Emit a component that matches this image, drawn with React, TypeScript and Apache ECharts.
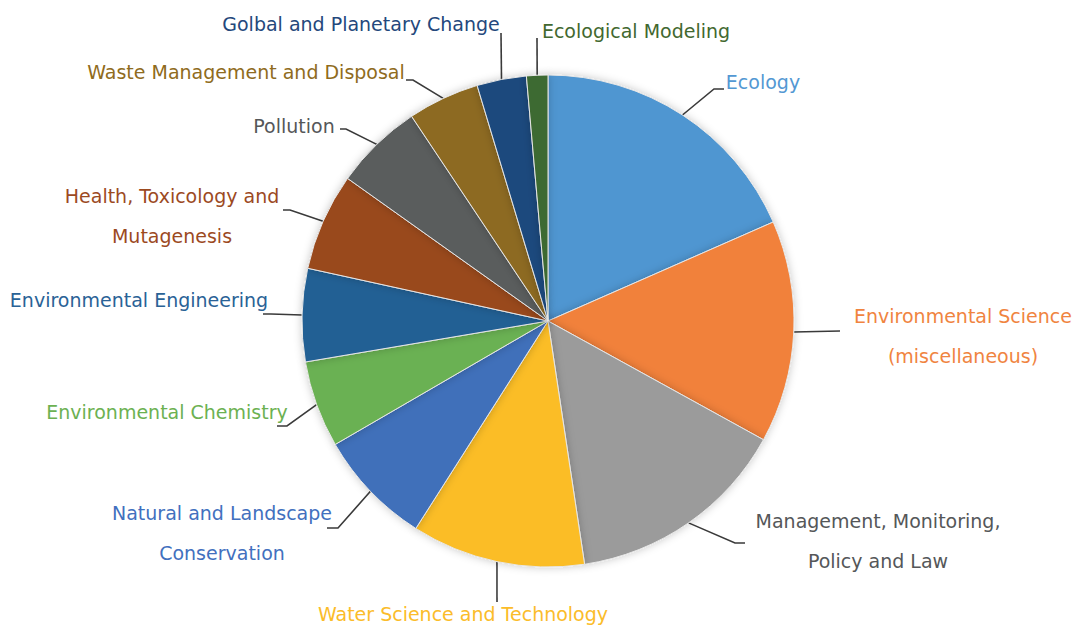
import React, { useEffect, useRef } from "react";
import * as echarts from "echarts";

// Categories (clockwise from 12 o'clock)
const categories = [
  "Ecology",
  "Environmental Science (miscellaneous)",
  "Management, Monitoring, Policy and Law",
  "Water Science and Technology",
  "Natural and Landscape Conservation",
  "Environmental Chemistry",
  "Environmental Engineering",
  "Health, Toxicology and Mutagenesis",
  "Pollution",
  "Waste Management and Disposal",
  "Golbal and Planetary Change",
  "Ecological Modeling",
];

// Share of each category (percent)
const values = [18.4, 14.6, 14.6, 11.4, 7.6, 5.7, 6.1, 6.4, 5.8, 4.7, 3.25, 1.4];

// Label texts as they are wrapped in the picture
const labelTexts = [
  "Ecology",
  "Environmental Science\n(miscellaneous)",
  "Management, Monitoring,\nPolicy and Law",
  "Water Science and Technology",
  "Natural and Landscape\nConservation",
  "Environmental Chemistry",
  "Environmental Engineering",
  "Health, Toxicology and\nMutagenesis",
  "Pollution",
  "Waste Management and Disposal",
  "Golbal and Planetary Change",
  "Ecological Modeling",
];

const sliceColors = [
  "#4f96d1", "#f1813a", "#9b9b9b", "#fbbd28", "#3f70ba", "#6bb152",
  "#246194", "#994a1e", "#5a5d5d", "#8d6a22", "#1c4a7d", "#3e6a32",
];

const labelColors = [
  "#5398d3", "#f0843f", "#555759", "#fbbc2a", "#4270be", "#6cb152",
  "#2a6296", "#9c4a1f", "#555759", "#8f6b20", "#24487c", "#42682f",
];

// Label centre positions (layout only)
const labelCenters: [number, number][] = [
  [763, 82], [963, 336], [878, 541], [463, 614], [222, 533], [167, 412],
  [139, 300], [172, 216], [294, 126], [246, 72], [361, 24], [636, 31],
];

// Where each leader line meets its label, and the length of the short
// horizontal stub next to the label (signed: + points right, - points left)
const leaderEnds: [number, number][] = [
  [724, 89], [840, 331], [745, 543], [497, 602], [327, 528], [277, 426],
  [263, 314], [283, 210], [340, 129], [406, 80], [501, 33], [537, 38],
];
const leaderStubs = [-10, 0, -10, 0, 11, 10, 8, 7, 6, 7, 0, 0];

export default function App() {
  const ref = useRef<HTMLDivElement>(null);
  useEffect(() => {
    if (!ref.current) return;
    const chart = echarts.init(ref.current, undefined, { renderer: "svg" });
    chart.setOption({
      animation: false,
      backgroundColor: "#ffffff",
      series: [
        {
          type: "pie",
          center: [548, 321],
          radius: 246,
          startAngle: 90,
          clockwise: true,
          avoidLabelOverlap: false,
          data: categories.map((name, i) => ({
            name,
            value: values[i],
            itemStyle: { color: sliceColors[i] },
            label: { color: labelColors[i] },
          })),
          itemStyle: {
            borderColor: "#e6e6e6",
            borderWidth: 1,
            shadowBlur: 8,
            shadowColor: "rgba(0,0,0,0.22)",
          },
          label: {
            show: true,
            position: "outside",
            formatter: (p: any) => labelTexts[p.dataIndex],
            fontFamily: "DejaVu Sans",
            fontSize: 19,
            lineHeight: 40,
          },
          labelLine: {
            show: true,
            length: 12,
            length2: 8,
            lineStyle: { color: "#3a3a3a", width: 1.6 },
          },
          labelLayout: (p: any) => {
            const i = p.dataIndex;
            const c = labelCenters[i];
            const end = leaderEnds[i];
            const stub = leaderStubs[i];
            const rim = p.labelLinePoints ? p.labelLinePoints[0] : end;
            const elbow = [end[0] + stub, end[1]];
            return {
              x: c[0],
              y: c[1],
              align: "center",
              verticalAlign: "middle",
              hideOverlap: false,
              labelLinePoints: [rim, elbow, end],
            };
          },
        },
      ],
    });
    return () => chart.dispose();
  }, []);
  return (
    <div
      ref={ref}
      style={{ position: "fixed", left: 0, top: 0, width: 1082, height: 627 }}
    />
  );
}
